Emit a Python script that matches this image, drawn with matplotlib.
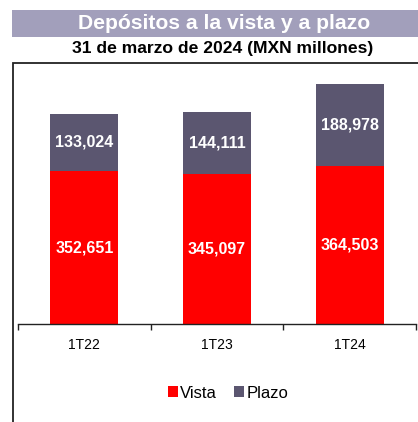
import matplotlib.pyplot as plt
from matplotlib.patches import Rectangle

plt.rcParams['font.family'] = ['Liberation Sans', 'DejaVu Sans']

periodos = ['1T22', '1T23', '1T24']
vista = [352651, 345097, 364503]
plazo = [133024, 144111, 188978]

rojo = '#ff0000'
gris = '#5b5670'

W, H = 418, 422
fig = plt.figure(figsize=(W / 100, H / 100), dpi=100)

# banner del titulo
fig.patches.append(Rectangle((12 / W, 1 - 37 / H), 1, 27 / H, transform=fig.transFigure,
                             facecolor='#a29fbb', edgecolor='none'))
fig.text(224 / W, 1 - 23.5 / H, 'Depósitos a la vista y a plazo', color='white',
         fontsize=15.2, fontweight='bold', ha='center', va='center')
fig.text(222.5 / W, 1 - 48 / H, '31 de marzo de 2024 (MXN millones)', color='black',
         fontsize=12.6, fontweight='bold', ha='center', va='center')

# marco exterior
fig.patches.append(Rectangle((13 / W, -0.1), 1, 1.1 - 63.5 / H, transform=fig.transFigure,
                             facecolor='none', edgecolor='#222222', linewidth=1.3))

ax = fig.add_axes([18 / W, 1 - 324 / H, 398 / W, 260 / H])
x = range(len(periodos))
b1 = ax.bar(x, vista, width=0.515, color=rojo, label='Vista')
b2 = ax.bar(x, plazo, width=0.515, bottom=vista, color=gris, label='Plazo')

for i in x:
    ax.text(i, vista[i] / 2, f'{vista[i]:,}', color='white', fontsize=11.5,
            fontweight='bold', ha='center', va='center')
    ax.text(i, vista[i] + plazo[i] / 2, f'{plazo[i]:,}', color='white', fontsize=11.5,
            fontweight='bold', ha='center', va='center')

ax.set_xlim(-0.5, 2.5)
ax.set_ylim(0, 600000)
ax.set_yticks([])
ax.set_xticks([-0.5, 0.5, 1.5, 2.5])
ax.set_xticklabels([])
ax.set_xticks(list(x), minor=True)
ax.set_xticklabels(periodos, minor=True, fontsize=10)
ax.tick_params(axis='x', which='major', length=4, width=1, color='#222222')
ax.tick_params(axis='x', which='minor', length=0, pad=10)
for s in ['top', 'right', 'left']:
    ax.spines[s].set_visible(False)
ax.spines['bottom'].set_color('#222222')
ax.spines['bottom'].set_linewidth(1)

fig.legend(handles=[b1, b2], loc='center', bbox_to_anchor=(228 / W, 1 - 393 / H),
           ncol=2, frameon=False, fontsize=12, handlelength=0.6, handleheight=0.6,
           handletextpad=0.15, columnspacing=1.0)

fig.savefig('out.png', dpi=100)
